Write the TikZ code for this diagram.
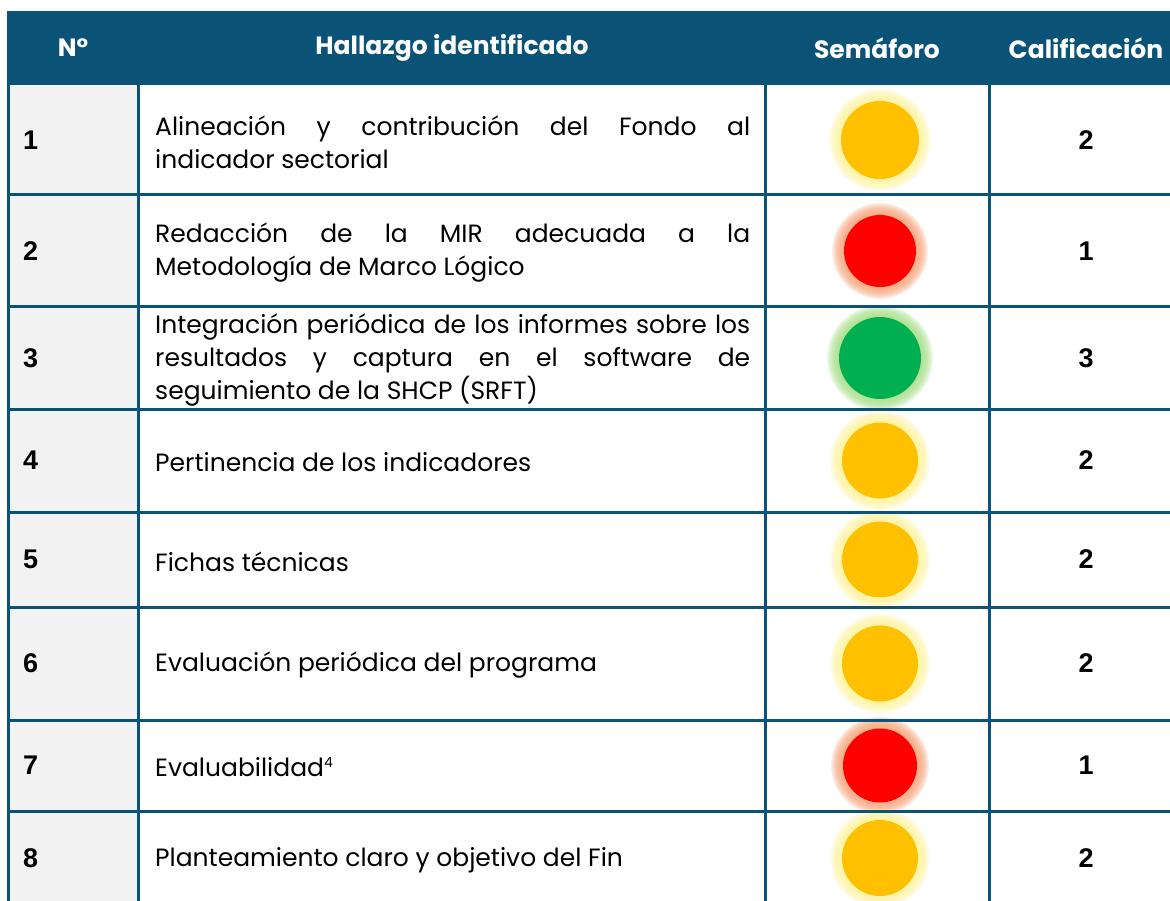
\documentclass[tikz,border=0pt]{standalone}
\usepackage{fontspec}
\setmainfont{Poppins}
\newfontfamily\numfont{Liberation Sans}
\definecolor{tablablue}{HTML}{0B5277}
\definecolor{grisceldas}{HTML}{F2F2F2}
\definecolor{semamarillo}{HTML}{FFC000}
\definecolor{semrojo}{HTML}{FF0000}
\definecolor{semverde}{HTML}{00B050}
\definecolor{brilloamarillo}{HTML}{FFF59D}
\definecolor{brillorojo}{HTML}{F9A47A}
\definecolor{brilloverde}{HTML}{A8E08A}

\begin{document}
\begin{tikzpicture}[x=1pt,y=-1pt,
  rejilla/.style={line width=3pt, draw=tablablue},
  encabezado/.style={text=white, font=\fontsize{25}{30}\selectfont\bfseries},
  hallazgo/.style={anchor=west, text width=595pt, align=justify, inner sep=0pt, font=\fontsize{25}{33}\selectfont},
  numero/.style={anchor=west, inner sep=0pt, font=\numfont\fontsize{27}{30}\selectfont\bfseries}]

\clip (0,0) rectangle (1170,901);
\fill [white] (0,0) rectangle (1170,901);

%HEADER
\fill [tablablue] (7,11) rectangle (1180,85);
\node [encabezado] (hN) at (73,48) {N°};
\node [encabezado] (hHallazgo) at (452,48) {Hallazgo identificado};
\node [encabezado] (hSemaforo) at (877,48) {Semáforo};
\node [encabezado] (hCalif) at (1086,48) {Calificación};

%First column
\fill [grisceldas] (8,85) rectangle (138,910);

%ROWS
\foreach \n/\ya/\yb/\luz/\brillo/\rad/\nota/\texto in {
  1/85/195/semamarillo/brilloamarillo/39/2/{Alineación y contribución del Fondo al\linebreak indicador sectorial},
  2/195/307/semrojo/brillorojo/36/1/{Redacción de la MIR adecuada a la\linebreak Metodología de Marco Lógico},
  3/307/409/semverde/brilloverde/41/3/{Integración periódica de los informes sobre los\linebreak resultados y captura en el software de\linebreak seguimiento de la SHCP (SRFT)},
  4/409/512/semamarillo/brilloamarillo/38/2/{Pertinencia de los indicadores},
  5/512/607/semamarillo/brilloamarillo/38/2/{Fichas técnicas},
  6/607/720/semamarillo/brilloamarillo/38/2/{Evaluación periódica del programa},
  7/720/811/semrojo/brillorojo/37/1/{Evaluabilidad\textsuperscript{\fontsize{14}{14}\selectfont 4}},
  8/811/905/semamarillo/brilloamarillo/38/2/{Planteamiento claro y objetivo del Fin}}
{
\pgfmathsetmacro\yc{(\ya+\yb)/2}
\node [numero] (num\n) at (23,\yc) {\n};
\node [hallazgo] (hallazgo\n) at (155,\yc+2) {\texto};
% glow
\foreach \k in {0,...,9}
  \fill [\brillo, opacity=0.18] (880,\yc) circle ({\rad+12-\k*1.2});
\node [circle, fill=\luz, inner sep=0pt, minimum size=2*\rad] (luz\n) at (880,\yc) {};
\node [numero, anchor=center] (nota\n) at (1086,\yc) {\nota};
}

%Horizontal lines
\foreach \y in {195,307,409,512,607,720,811}
{
\draw [rejilla] (7,\y) -- (1180,\y);
}

%Vertical lines
\foreach \x in {8.5,138.5,765.5,989.5}
{
\draw [rejilla] (\x,84) -- (\x,910);
}

\end{tikzpicture}
\end{document}
